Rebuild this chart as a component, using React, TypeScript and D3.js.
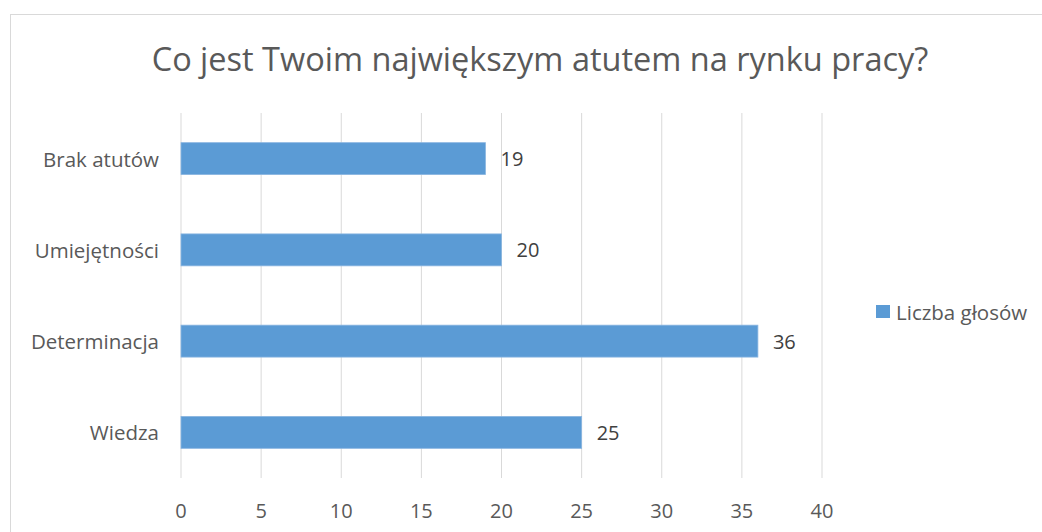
import React from 'react'
import * as d3 from 'd3'

const categories = ['Brak atutów', 'Umiejętności', 'Determinacja', 'Wiedza']
const votes = [19, 20, 36, 25]
const xTicks = [0, 5, 10, 15, 20, 25, 30, 35, 40]
const seriesName = 'Liczba głosów'
const title = 'Co jest Twoim największym atutem na rynku pracy?'

const W = 1042
const H = 532
const font = '"Open Sans", "Noto Sans", sans-serif'
const textColor = '#595959'
const barColor = '#5B9BD5'

const App = () => {
  const x = d3.scaleLinear().domain([0, 40]).range([181, 822])
  const y = d3.scaleBand().domain(categories).range([113, 478]).paddingInner(0.65).paddingOuter(0.325)

  return (
    <svg width={W} height={H} style={{ position: 'absolute', left: 0, top: 0 }} fontFamily={font}>
      <rect x={0} y={0} width={W} height={H} fill="white" />
      <rect x={10.5} y={14.5} width={W + 20} height={H + 20} fill="white" stroke="#d9d9d9" strokeWidth={1} />
      <text x={540} y={71} textAnchor="middle" fontSize={32.5} fill={textColor}>{title}</text>

      {/* gridlines */}
      {xTicks.map(t => (
        <line key={t} x1={x(t)} x2={x(t)} y1={113} y2={478} stroke="#d9d9d9" strokeWidth={1} />
      ))}

      {/* bars */}
      {categories.map((c, i) => (
        <g key={c}>
          <rect x={x(0)} y={y(c)} width={x(votes[i]) - x(0)} height={y.bandwidth()} fill={barColor} stroke="#8ab6e0" strokeWidth={0.8} />
          <text x={x(votes[i]) + 15} y={y(c)! + y.bandwidth() / 2} dominantBaseline="central" fontSize={20} fill="#404040">{votes[i]}</text>
          <text x={x(0) - 22} y={y(c)! + y.bandwidth() / 2} dominantBaseline="central" textAnchor="end" fontSize={20.5} fill={textColor}>{c}</text>
        </g>
      ))}

      {/* x tick labels */}
      {xTicks.map(t => (
        <text key={t} x={x(t)} y={510} textAnchor="middle" dominantBaseline="central" fontSize={20} fill={textColor}>{t}</text>
      ))}

      {/* legend */}
      <rect x={876} y={305} width={14} height={13} fill={barColor} />
      <text x={896} y={312} dominantBaseline="central" fontSize={20.5} fill={textColor}>{seriesName}</text>
    </svg>
  )
}

export default App
